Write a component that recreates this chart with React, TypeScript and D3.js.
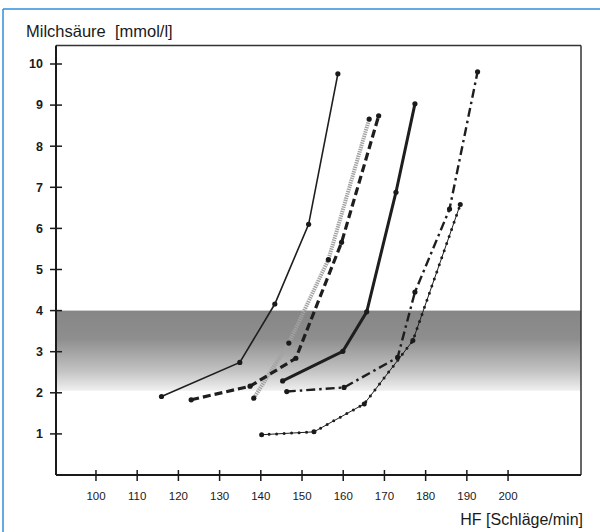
import { useMemo } from "react";
import * as d3 from "d3";

const WIDTH = 600;
const HEIGHT = 532;
// plot box in page pixels
const BOX = { left: 56, right: 581, top: 45.5, bottom: 475 };

const xTicks = [100, 110, 120, 130, 140, 150, 160, 170, 180, 190, 200];
const yTicks = [1, 2, 3, 4, 5, 6, 7, 8, 9, 10];

// lactate band (mmol/l)
const bandTop = 4.0;
const bandBottom = 2.05;

// heart rate (x) and lactate (y) per curve
const hfThin = [115.9, 134.9, 143.4, 151.6, 158.7];
const laThin = [1.91, 2.74, 4.16, 6.1, 9.76];

const hfGray = [138.3, 146.8, 156.4, 166.3];
const laGray = [1.87, 3.21, 5.24, 8.66];

const hfDashed = [123.1, 137.4, 148.5, 159.6, 168.6];
const laDashed = [1.83, 2.16, 2.84, 5.66, 8.74];

const hfThick = [145.3, 159.9, 165.7, 172.8, 177.4];
const laThick = [2.29, 3.01, 3.97, 6.88, 9.03];

const hfDashDot = [146.3, 160.2, 173.2, 177.4, 185.8, 192.6];
const laDashDot = [2.03, 2.13, 2.86, 4.45, 6.47, 9.81];

const hfDotted = [140.2, 152.9, 165.1, 176.9, 188.4];
const laDotted = [0.98, 1.05, 1.73, 3.27, 6.58];

const zip = (xs: number[], ys: number[]) => xs.map((x, i) => ({ x, y: ys[i] }));

const App = () => {
  const xScale = useMemo(
    () => d3.scaleLinear().domain([90.3, 217.7]).range([BOX.left, BOX.right]),
    []
  );
  const yScale = useMemo(
    () => d3.scaleLinear().domain([0, 10.45]).range([BOX.bottom, BOX.top]),
    []
  );

  const line = d3
    .line<{ x: number; y: number }>()
    .x((d) => xScale(d.x))
    .y((d) => yScale(d.y));

  const series = [
    { pts: zip(hfThin, laThin), stroke: "#1e1e1e", width: 1.6, dash: null },
    { pts: zip(hfGray, laGray), stroke: "#a2a2a2", width: 4, dash: "1.4 0.9" },
    { pts: zip(hfDashed, laDashed), stroke: "#1e1e1e", width: 3.2, dash: "8 4" },
    { pts: zip(hfThick, laThick), stroke: "#1e1e1e", width: 3, dash: null },
    { pts: zip(hfDashDot, laDashDot), stroke: "#1e1e1e", width: 2.4, dash: "9 4 2.5 4" },
  ];
  const dotted = zip(hfDotted, laDotted);

  const font = "'Liberation Sans', Arial, sans-serif";

  return (
    <svg
      width={WIDTH}
      height={HEIGHT}
      style={{ position: "absolute", left: 0, top: 0, background: "#fff" }}
    >
      <defs>
        <linearGradient id="band" x1="0" y1="0" x2="0" y2="1">
          <stop offset="0" stopColor="#868686" />
          <stop offset="0.35" stopColor="#8e8e8e" />
          <stop offset="0.75" stopColor="#c2c2c2" />
          <stop offset="1" stopColor="#f0f0f0" />
        </linearGradient>
      </defs>

      {/* blue frame */}
      <line x1={3} x2={WIDTH} y1={9} y2={9} stroke="#2f8fd8" strokeWidth={1.5} />
      <line x1={3} x2={3} y1={9} y2={HEIGHT} stroke="#2f8fd8" strokeWidth={1.5} />

      {/* shaded lactate band */}
      <rect
        x={BOX.left}
        y={yScale(bandTop)}
        width={BOX.right - BOX.left}
        height={yScale(bandBottom) - yScale(bandTop)}
        fill="url(#band)"
      />

      {/* box */}
      <line x1={BOX.left} x2={BOX.right} y1={BOX.top} y2={BOX.top} stroke="#333" strokeWidth={1.5} />
      <line x1={BOX.right} x2={BOX.right} y1={BOX.top} y2={BOX.bottom} stroke="#333" strokeWidth={1.5} />
      <line x1={BOX.left} x2={BOX.left} y1={BOX.top} y2={BOX.bottom} stroke="#1a1a1a" strokeWidth={2} />
      <line x1={BOX.left} x2={BOX.right} y1={BOX.bottom} y2={BOX.bottom} stroke="#1a1a1a" strokeWidth={2} />

      {/* y axis ticks */}
      {yTicks.map((t) => (
        <g key={t} transform={`translate(0,${yScale(t)})`}>
          <line x1={BOX.left - 6} x2={BOX.left + 6} stroke="#1a1a1a" strokeWidth={1.5} />
          <text
            x={43}
            dy="0.35em"
            textAnchor="end"
            fontFamily={font}
            fontSize={12.5}
            fontWeight="bold"
            fill="#1a1a1a"
          >
            {t}
          </text>
        </g>
      ))}

      {/* x axis ticks */}
      {xTicks.map((t) => (
        <g key={t} transform={`translate(${xScale(t)},0)`}>
          <line y1={BOX.bottom - 5} y2={BOX.bottom + 6} stroke="#1a1a1a" strokeWidth={1.5} />
          <text
            y={500}
            textAnchor="middle"
            fontFamily={font}
            fontSize={11.5}
            fill="#1a1a1a"
          >
            {t}
          </text>
        </g>
      ))}

      {/* curves */}
      {series.map((s, i) => (
        <g key={i}>
          <path
            d={line(s.pts) || ""}
            fill="none"
            stroke={s.stroke}
            strokeWidth={s.width}
            strokeDasharray={s.dash || undefined}
          />
          {s.pts.map((p, j) => (
            <circle key={j} cx={xScale(p.x)} cy={yScale(p.y)} r={2.6} fill="#1a1a1a" />
          ))}
        </g>
      ))}

      {/* dotted curve */}
      <g>
        <path d={line(dotted) || ""} fill="none" stroke="#1e1e1e" strokeWidth={1} />
        <path
          d={line(dotted) || ""}
          fill="none"
          stroke="#1e1e1e"
          strokeWidth={3}
          strokeLinecap="round"
          strokeDasharray="0 7.5"
        />
        {dotted.map((p, j) => (
          <circle key={j} cx={xScale(p.x)} cy={yScale(p.y)} r={2.5} fill="#1a1a1a" />
        ))}
      </g>

      {/* titles */}
      <text x={26} y={37} fontFamily={font} fontSize={16.5} fill="#1a1a1a" style={{ whiteSpace: "pre" }}>
        {"Milchsäure  [mmol/l]"}
      </text>
      <text x={583} y={525} textAnchor="end" fontFamily={font} fontSize={16} fill="#1a1a1a">
        HF [Schläge/min]
      </text>
    </svg>
  );
};

export default App;
